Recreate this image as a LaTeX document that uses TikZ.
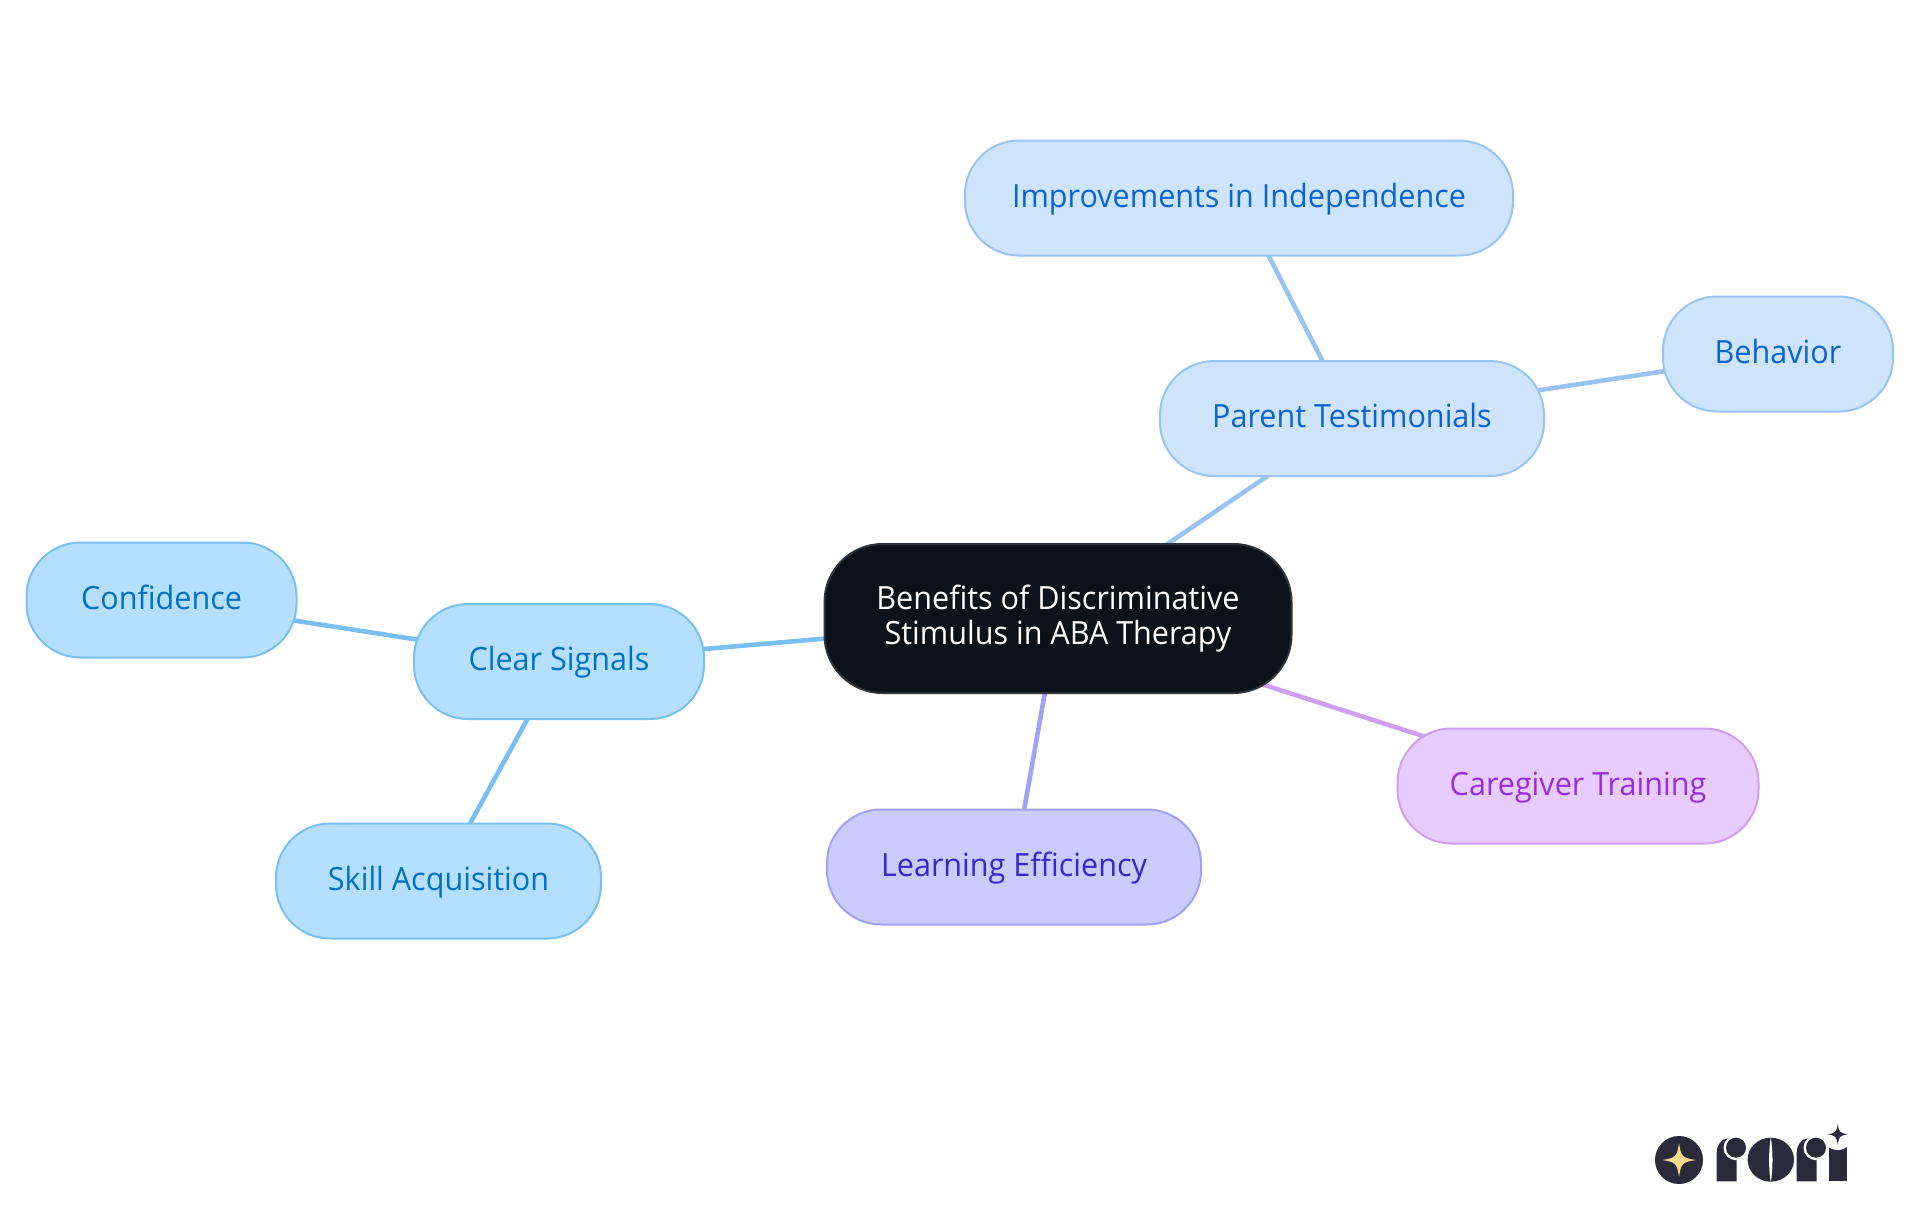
\documentclass[tikz,border=0pt]{standalone}
\usepackage{fontspec}
\setmainfont[FakeStretch=0.955]{Open Sans}
\usetikzlibrary{backgrounds}
\definecolor{pFill}{HTML}{CEE4FC}\definecolor{pLine}{HTML}{99C3F1}\definecolor{pText}{HTML}{0B63CE}
\definecolor{cFill}{HTML}{B5DFFF}\definecolor{cLine}{HTML}{7ABFF2}\definecolor{cText}{HTML}{0070C4}
\definecolor{lFill}{HTML}{CACBFF}\definecolor{lLine}{HTML}{A0A2F2}\definecolor{lText}{HTML}{3528CC}
\definecolor{gFill}{HTML}{E9CCFF}\definecolor{gLine}{HTML}{CF9FF2}\definecolor{gText}{HTML}{952FDD}
\definecolor{rootFill}{HTML}{0C121A}\definecolor{rootLine}{HTML}{2D333B}
\definecolor{logoDark}{HTML}{2A2A3A}\definecolor{logoGold}{HTML}{FBD98B}
\newcommand{\sparkle}[4]{\fill[#4] (#1-#3,#2) .. controls (#1-0.2*#3,#2-0.12*#3) and (#1-0.12*#3,#2-0.2*#3) .. (#1,#2-#3) .. controls (#1+0.12*#3,#2-0.2*#3) and (#1+0.2*#3,#2-0.12*#3) .. (#1+#3,#2) .. controls (#1+0.2*#3,#2+0.12*#3) and (#1+0.12*#3,#2+0.2*#3) .. (#1,#2+#3) .. controls (#1-0.12*#3,#2+0.2*#3) and (#1-0.2*#3,#2+0.12*#3) .. cycle;}
\tikzset{
 x=1pt,y=-1pt,
 mapbox/.style={rectangle,rounded corners=54pt,line width=2pt,minimum height=115pt,inner sep=0pt,
   text height=24pt,text depth=6pt,font=\fontsize{32}{35}\selectfont},
 pbox/.style={mapbox,draw=pLine,fill=pFill,text=pText},
 cbox/.style={mapbox,draw=cLine,fill=cFill,text=cText},
 lbox/.style={mapbox,draw=lLine,fill=lFill,text=lText},
 gbox/.style={mapbox,draw=gLine,fill=gFill,text=gText},
 rootbox/.style={rectangle,rounded corners=58pt,line width=2pt,draw=rootLine,fill=rootFill,text=white,
   minimum width=467pt,minimum height=149pt,inner sep=0pt,align=center,font=\fontsize{32}{34.5}\selectfont},
 link/.style={line width=4.6pt}
}
\begin{document}
\begin{tikzpicture}
\useasboundingbox (0,0) rectangle (1920,1215);
\node[rootbox] (root) at (1058,618.5) {\raisebox{-1pt}{Benefits of Discriminative}\\\raisebox{-1pt}{Stimulus in ABA Therapy}};
\node[pbox,minimum width=548pt] (indep) at (1239,198) {Improvements in Independence};
\node[pbox,minimum width=384pt] (parent) at (1352,418.5) {Parent Testimonials};
\node[pbox,minimum width=230pt] (behav) at (1778,354) {Behavior};
\node[cbox,minimum width=270pt] (conf) at (161.5,600) {Confidence};
\node[cbox,minimum width=290pt] (clear) at (559,661.5) {Clear Signals};
\node[cbox,minimum width=325pt] (skill) at (438.5,881) {Skill Acquisition};
\node[lbox,minimum width=374pt] (learn) at (1014,867) {Learning Efficiency};
\node[gbox,minimum width=361pt] (care) at (1578,786) {Caregiver Training};
\begin{scope}[on background layer]
\draw[link,pLine] (root.center) -- (parent.center);
\draw[link,pLine] (parent.center) -- (indep.center);
\draw[link,pLine] (parent.center) -- (behav.center);
\draw[link,cLine] (root.center) -- (clear.center);
\draw[link,cLine] (clear.center) -- (conf.center);
\draw[link,cLine] (clear.center) -- (skill.center);
\draw[link,lLine] (root.center) -- (learn.center);
\draw[link,gLine] (root.center) -- (care.center);
\end{scope}
% logo
\fill[logoDark] (1679,1160) circle (24);
\sparkle{1679}{1160}{17}{logoGold}
\fill[logoDark] (1716.7,1181.3) -- (1716.7,1153) .. controls (1716.7,1145) and (1721,1139) .. (1728,1138.3) -- (1736.7,1138.3) -- (1736.7,1181.3) -- cycle;
\fill[white] (1736,1147.7) circle (12.5);
\fill[logoDark] (1736,1147.7) circle (10);
\fill[logoDark] (1770.8,1159.7) ellipse (23.2 and 22);
\fill[white] (1770.8,1137) .. controls (1768.5,1152) and (1768.5,1168) .. (1770.8,1183) .. controls (1773.1,1168) and (1773.1,1152) .. cycle;
\fill[logoDark] (1796.7,1181.3) -- (1796.7,1153) .. controls (1796.7,1145) and (1801,1139) .. (1808,1138.3) -- (1816.7,1138.3) -- (1816.7,1181.3) -- cycle;
\fill[white] (1816,1147.7) circle (12.5);
\fill[logoDark] (1816,1147.7) circle (10);
\fill[logoDark] (1829,1145) rectangle (1846.7,1181.3);
\fill[white] (1837.7,1134.3) circle (15.7);
\sparkle{1837.7}{1134.3}{10.3}{logoDark}
\end{tikzpicture}
\end{document}
